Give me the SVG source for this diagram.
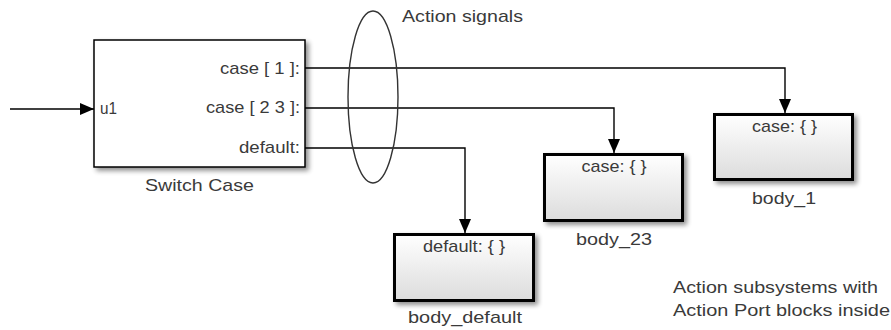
<svg xmlns="http://www.w3.org/2000/svg" width="891" height="330" viewBox="0 0 891 330">
<style>
text{font-family:"Liberation Sans",Arial,sans-serif;font-size:17px;fill:#3a3a3a}
.wire{fill:none;stroke:#000;stroke-width:1.4}
.sub{stroke:#000;stroke-width:3;fill:url(#g)}
</style>
<defs>
<linearGradient id="g" x1="0" y1="0" x2="0" y2="1">
<stop offset="0" stop-color="#ffffff"/>
<stop offset="1" stop-color="#dcdcdc"/>
</linearGradient>
<filter id="sh" x="-10%" y="-10%" width="125%" height="135%">
<feGaussianBlur in="SourceAlpha" stdDeviation="2.5"/>
<feOffset dx="3" dy="3" result="b"/>
<feComponentTransfer><feFuncA type="linear" slope="0.45"/></feComponentTransfer>
<feMerge><feMergeNode/><feMergeNode in="SourceGraphic"/></feMerge>
</filter>
<marker id="ah" markerUnits="userSpaceOnUse" markerWidth="14" markerHeight="12" refX="14" refY="6" orient="auto">
<path d="M0,0 L14,6 L0,12 z" fill="#000"/>
</marker>
</defs>

<g id="connectors">
<path class="wire" d="M10,109 H94" marker-end="url(#ah)"/>
<path class="wire" d="M305,68 H785 V113" marker-end="url(#ah)"/>
<path class="wire" d="M305,108 H614 V153" marker-end="url(#ah)"/>
<path class="wire" d="M305,148 H465 V233" marker-end="url(#ah)"/>
</g>

<g id="switch_case">
<rect x="94" y="40" width="211" height="127" fill="#fff" stroke="#000" stroke-width="1.5" filter="url(#sh)"/>
<text x="100" y="114" textLength="17" lengthAdjust="spacingAndGlyphs">u1</text>
<text x="300" y="74" text-anchor="end" textLength="80" lengthAdjust="spacingAndGlyphs">case [ 1 ]:</text>
<text x="300" y="113" text-anchor="end" textLength="94" lengthAdjust="spacingAndGlyphs">case [ 2 3 ]:</text>
<text x="300" y="153" text-anchor="end" textLength="61" lengthAdjust="spacingAndGlyphs">default:</text>
<text x="199.5" y="191" text-anchor="middle" textLength="109" lengthAdjust="spacingAndGlyphs">Switch Case</text>
</g>

<g id="action_signals">
<ellipse cx="373" cy="97" rx="25" ry="86" fill="none" stroke="#333" stroke-width="1.4"/>
<text x="402" y="22" textLength="121" lengthAdjust="spacingAndGlyphs">Action signals</text>
</g>

<g id="body_1">
<rect class="sub" x="714.5" y="114.5" width="138" height="65" filter="url(#sh)"/>
<text x="784.5" y="132" text-anchor="middle" textLength="65" lengthAdjust="spacingAndGlyphs">case: { }</text>
<text x="784" y="204" text-anchor="middle" textLength="64" lengthAdjust="spacingAndGlyphs">body_1</text>
</g>

<g id="body_23">
<rect class="sub" x="544.5" y="154.5" width="138" height="66" filter="url(#sh)"/>
<text x="614" y="172" text-anchor="middle" textLength="65" lengthAdjust="spacingAndGlyphs">case: { }</text>
<text x="614" y="245" text-anchor="middle" textLength="76" lengthAdjust="spacingAndGlyphs">body_23</text>
</g>

<g id="body_default">
<rect class="sub" x="394.5" y="234.5" width="139" height="66" filter="url(#sh)"/>
<text x="464" y="252" text-anchor="middle" textLength="82" lengthAdjust="spacingAndGlyphs">default: { }</text>
<text x="465" y="323" text-anchor="middle" textLength="114" lengthAdjust="spacingAndGlyphs">body_default</text>
</g>

<g id="note">
<text x="673" y="293" textLength="205" lengthAdjust="spacingAndGlyphs">Action subsystems with</text>
<text x="673" y="316" textLength="217" lengthAdjust="spacingAndGlyphs">Action Port blocks inside</text>
</g>
</svg>
